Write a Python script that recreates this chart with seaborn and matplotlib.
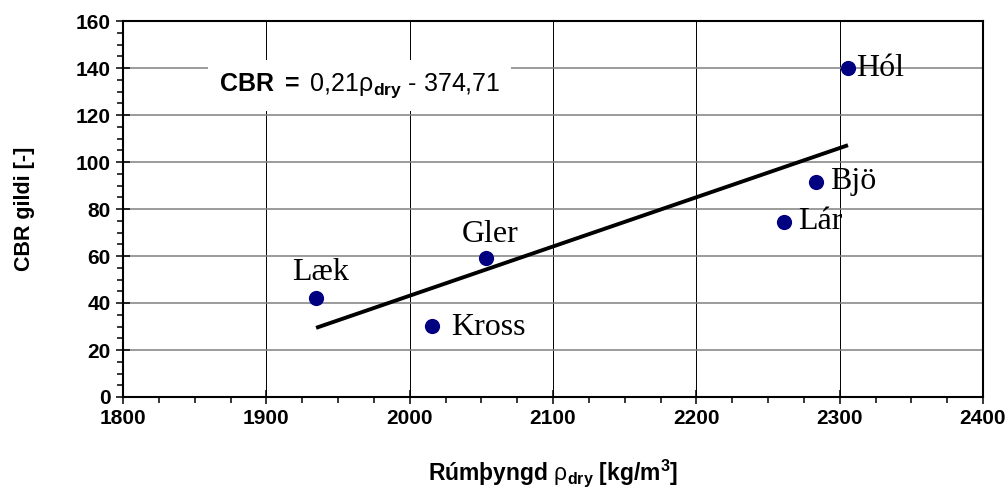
import matplotlib
matplotlib.use("Agg")
import matplotlib.pyplot as plt
import seaborn as sns
import pandas as pd
from matplotlib.ticker import MultipleLocator

# ---- data ----
sites = ["Læk", "Kross", "Gler", "Lár", "Bjö", "Hól"]
density = [1934.7, 2015.6, 2053.3, 2261.2, 2283.5, 2305.8]
cbr = [42.3, 30.2, 59.0, 74.5, 91.5, 140.0]
x_ticks = [1800, 1900, 2000, 2100, 2200, 2300, 2400]
y_ticks = [0, 20, 40, 60, 80, 100, 120, 140, 160]
equation = r"$\mathbf{CBR}$ $\mathbf{=}$ 0,21$\mathrm{\rho}_{\mathbf{dry}}$ - 374,71"
x_label = r"Rúmþyngd $\mathrm{\rho}_{\mathbf{dry}}$ [kg/m$^{\mathbf{3}}$]"
y_label = "CBR gildi [-]"

# ---- layout (label offsets in points, alignment) ----
label_layout = {
    "Læk": (3, 18, "center"),
    "Kross": (14, -1, "left"),
    "Gler": (3, 17, "center"),
    "Lár": (10, 0, "left"),
    "Bjö": (10, 0, "left"),
    "Hól": (6, 0, "left"),
}

sns.set_style("white")
plt.rcParams["font.family"] = ["Liberation Sans", "DejaVu Sans"]
plt.rcParams["text.color"] = "black"
plt.rcParams["axes.labelcolor"] = "black"
plt.rcParams["xtick.color"] = "black"
plt.rcParams["ytick.color"] = "black"
plt.rcParams["mathtext.fontset"] = "custom"
plt.rcParams["mathtext.rm"] = "Liberation Sans"
plt.rcParams["mathtext.bf"] = "Liberation Sans:bold"
plt.rcParams["mathtext.it"] = "Liberation Sans:italic"
plt.rcParams["mathtext.sf"] = "Liberation Sans"

df = pd.DataFrame({"site": sites, "density": density, "cbr": cbr})

fig = plt.figure(figsize=(10.08, 4.94), dpi=100)
ax = fig.add_axes([123 / 1008, 1 - 397 / 494, 860 / 1008, 376 / 494])

sns.regplot(data=df, x="density", y="cbr", scatter=False, ci=None,
            truncate=True, color="black",
            line_kws={"lw": 2.8, "solid_capstyle": "butt", "zorder": 3}, ax=ax)
sns.scatterplot(data=df, x="density", y="cbr", color="#000080", s=120,
                edgecolor="#000080", linewidth=0, ax=ax, zorder=4, legend=False)

for s, xv, yv in zip(sites, density, cbr):
    dx, dy, ha = label_layout[s]
    ax.annotate(s, (xv, yv), xytext=(dx, dy), textcoords="offset points",
                ha=ha, va="center", fontsize=23, family="Liberation Serif",
                color="black", zorder=5)

ax.text(1965, 132.5, equation, ha="center", va="center", fontsize=18,
        bbox=dict(boxstyle="square,pad=0.45", fc="white", ec="none"), zorder=3)

ax.set_xlim(x_ticks[0], x_ticks[-1])
ax.set_ylim(y_ticks[0], y_ticks[-1])
ax.set_xticks(x_ticks)
ax.set_yticks(y_ticks)
ax.xaxis.set_minor_locator(MultipleLocator(25))
ax.yaxis.set_minor_locator(MultipleLocator(5))

ax.set_axisbelow(True)
ax.yaxis.grid(True, which="major", color="#808080", lw=1.1)
ax.xaxis.grid(True, which="major", color="black", lw=0.7)

ax.tick_params(axis="both", which="major", direction="inout", length=10,
               width=1.1, labelsize=15, pad=4, color="black",
               left=True, bottom=True)
ax.tick_params(axis="both", which="minor", direction="out", length=4,
               width=1.1, color="black", left=True, bottom=True)
for lab in ax.get_xticklabels() + ax.get_yticklabels():
    lab.set_fontweight("bold")

for sp in ax.spines.values():
    sp.set_visible(True)
    sp.set_color("black")
    sp.set_linewidth(1.5)

ax.set_xlabel(x_label, fontsize=16.5, fontweight="bold")
ax.set_ylabel(y_label, fontsize=15.5, fontweight="bold")
ax.xaxis.set_label_coords(0.5, -0.16)
ax.yaxis.set_label_coords(-0.102, 0.5)

fig.savefig("out.png", dpi=100)
